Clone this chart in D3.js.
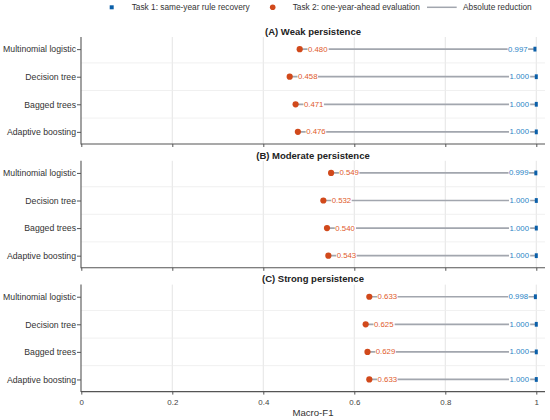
<!DOCTYPE html>
<html><head><meta charset="utf-8">
<script src="https://cdn.jsdelivr.net/npm/d3@7"></script>
<style>body{margin:0;background:#fff}svg{display:block;font-family:"Liberation Sans",Arial,sans-serif}</style>
</head><body><svg id="c" width="550" height="420"></svg>
<script>
const models = ["Multinomial logistic","Decision tree","Bagged trees","Adaptive boosting"];
const panelTitles = ["(A) Weak persistence","(B) Moderate persistence","(C) Strong persistence"];
const task1A = [0.997,1.000,1.000,1.000];
const task2A = [0.480,0.458,0.471,0.476];
const task1B = [0.999,1.000,1.000,1.000];
const task2B = [0.549,0.532,0.540,0.543];
const task1C = [0.998,1.000,1.000,1.000];
const task2C = [0.633,0.625,0.629,0.633];
const xTicks = [0,0.2,0.4,0.6,0.8,1];
const legendLabels = ["Task 1: same-year rule recovery","Task 2: one-year-ahead evaluation","Absolute reduction"];

const task1 = [task1A,task1B,task1C], task2 = [task2A,task2B,task2C];
const BLUE="#0b5fa8", BLUET="#2a84c6", ORANGE="#d1491b", ORANGET="#e05a2b", GREY="#a2a6ae", AX="#555";
const svg = d3.select("#c");
const left=81, right=545, x0=81.3, x1=536.3;
const x = d3.scaleLinear().domain([0,1]).range([x0,x1]);
const panelTops=[37,160.8,284.6], ph=107;

panelTitles.forEach((t,pi)=>{
  const top=panelTops[pi];
  const g=svg.append("g").attr("transform",`translate(0,${top})`);
  const y=d3.scalePoint().domain(models).range([0,ph]).padding(0.44);
  g.selectAll("line.vg").data(xTicks.slice(1)).join("line")
    .attr("x1",d=>x(d)).attr("x2",d=>x(d)).attr("y1",0).attr("y2",ph)
    .attr("stroke","#dedede").attr("stroke-width",0.8);
  const mids=models.slice(1).map((m,i)=>(y(models[i])+y(m))/2);
  g.selectAll("line.hg").data(mids).join("line")
    .attr("x1",left).attr("x2",right).attr("y1",d=>d).attr("y2",d=>d)
    .attr("stroke","#ececec").attr("stroke-width",0.8);
  g.append("text").attr("x",(left+right)/2).attr("y",-5.7).attr("dominant-baseline","central")
    .attr("text-anchor","middle").attr("font-weight","bold").attr("font-size",9.5).attr("fill","#222").text(t);
  const xa=d3.axisBottom(x).tickValues(xTicks).tickSize(3).tickFormat(pi===2?d3.format("~g"):"");
  const xg=g.append("g").attr("transform",`translate(0,${ph})`).call(xa);
  xg.select(".domain").remove();
  xg.append("line").attr("x1",left).attr("x2",right).attr("stroke",AX).attr("stroke-width",1.1);
  xg.selectAll(".tick line").attr("stroke",AX);
  xg.selectAll(".tick text").attr("font-size",7.9).attr("fill","#444").attr("font-family","Liberation Sans, Arial, sans-serif").attr("dy","0.9em");
  const ya=d3.axisLeft(y).tickSize(4).tickPadding(1);
  const yg=g.append("g").attr("transform",`translate(${left},0)`).call(ya);
  yg.select(".domain").remove();
  yg.append("line").attr("y1",0).attr("y2",ph+0.5).attr("stroke",AX).attr("stroke-width",1.1);
  yg.selectAll(".tick line").attr("stroke",AX);
  yg.selectAll(".tick text").attr("font-size",8.7).attr("fill","#333").attr("font-family","Liberation Sans, Arial, sans-serif");
  models.forEach((m,i)=>{
    const a=task2[pi][i], b=task1[pi][i], yy=y(m);
    g.append("line").attr("x1",x(a)).attr("x2",x(b)).attr("y1",yy).attr("y2",yy)
      .attr("stroke",GREY).attr("stroke-width",1.7);
    const addLabel=(val,xp,anchor,col)=>{
      const tx=g.append("text").attr("x",xp).attr("y",yy).attr("dominant-baseline","central")
        .attr("text-anchor",anchor).attr("font-size",7.8).attr("fill",col).text(d3.format(".3f")(val));
      const bb=tx.node().getBBox();
      g.insert("rect",()=>tx.node()).attr("x",bb.x-0.5).attr("y",yy-3).attr("width",bb.width+1).attr("height",6).attr("fill","#fff");
    };
    addLabel(a,x(a)+8.3,"start",ORANGET);
    addLabel(b,x(b)-7.3,"end",BLUET);
    g.append("circle").attr("cx",x(a)).attr("cy",yy).attr("r",3.1).attr("fill",ORANGE);
    g.append("rect").attr("x",x(b)-1.5).attr("y",yy-2.4).attr("width",3).attr("height",4.8).attr("fill",BLUE);
  });
});
svg.append("text").attr("x",313).attr("y",412.5).attr("dominant-baseline","central").attr("text-anchor","middle")
  .attr("font-size",9.6).attr("fill","#333").text("Macro-F1");
const ly=7.3;
const lg=svg.append("g");
lg.append("rect").attr("x",111.7-2).attr("y",ly-2).attr("width",4).attr("height",4).attr("fill",BLUE);
lg.append("text").attr("x",131.7).attr("y",ly).attr("dominant-baseline","central").attr("font-size",8.3).attr("fill","#333").text(legendLabels[0]);
lg.append("circle").attr("cx",272.7).attr("cy",ly).attr("r",2.8).attr("fill",ORANGE);
lg.append("text").attr("x",292.7).attr("y",ly).attr("dominant-baseline","central").attr("font-size",8.3).attr("fill","#333").text(legendLabels[1]);
lg.append("line").attr("x1",427).attr("x2",456.7).attr("y1",ly).attr("y2",ly).attr("stroke",GREY).attr("stroke-width",1.5);
lg.append("text").attr("x",463).attr("y",ly).attr("dominant-baseline","central").attr("font-size",8.3).attr("fill","#333").text(legendLabels[2]);
</script></body></html>
